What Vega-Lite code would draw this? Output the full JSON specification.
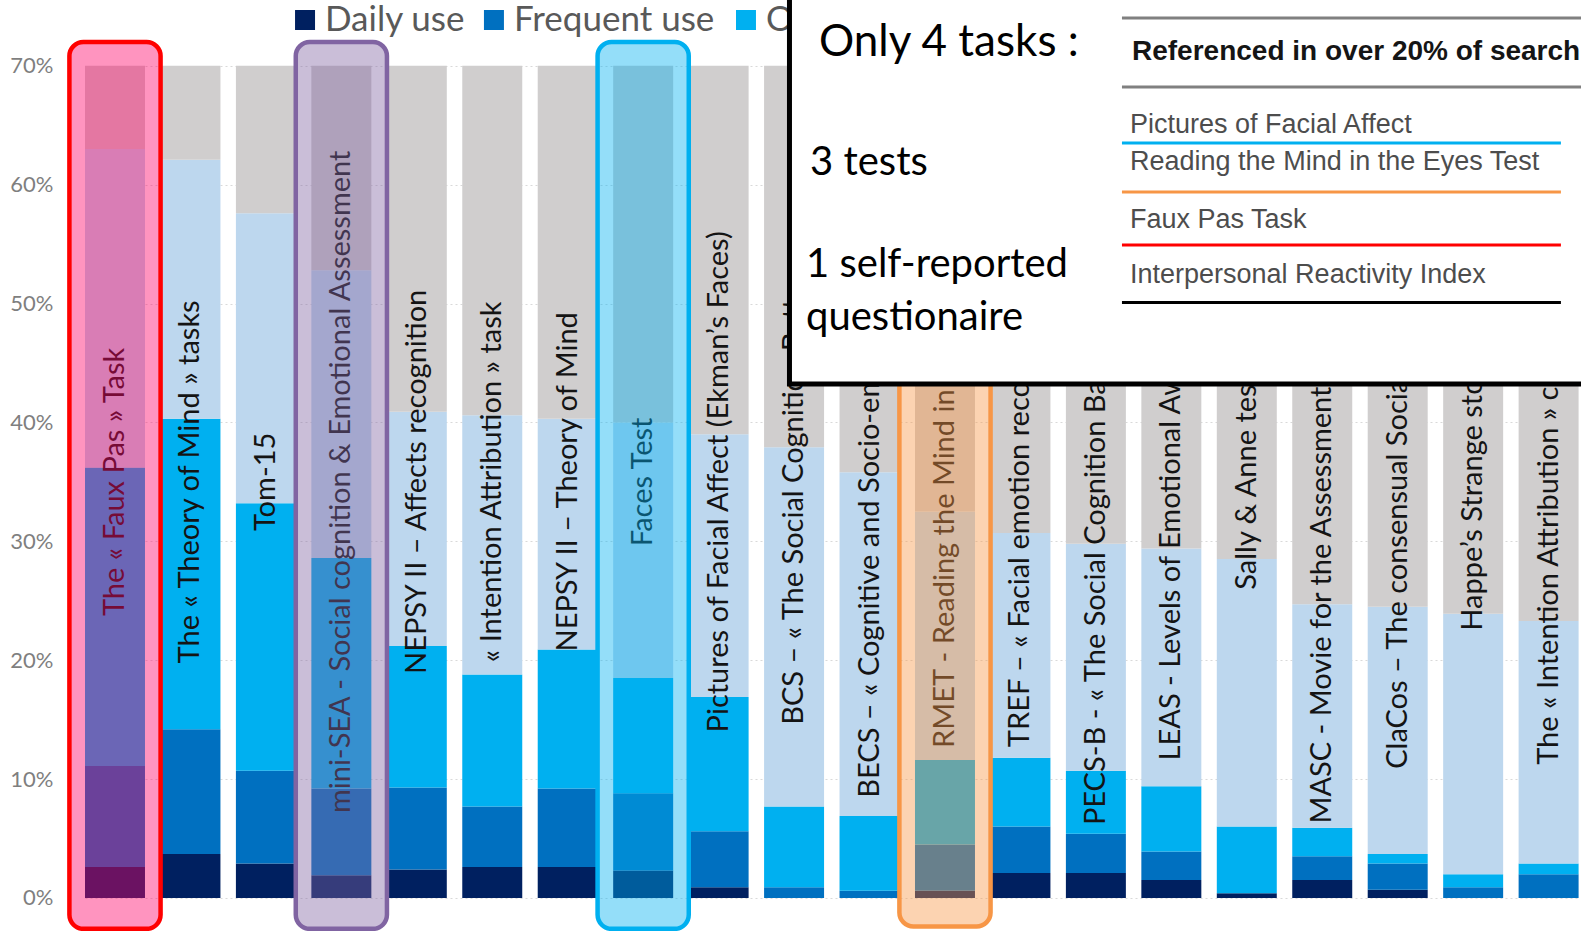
{
  "$schema": "https://vega.github.io/schema/vega-lite/v6.json",
  "autosize": {"type": "none"},
  "width": 1521,
  "height": 931,
  "padding": {"left": 60, "right": 0, "top": 0, "bottom": 0},
  "background": "white",
  "config": {"view": {"stroke": null}, "font": "Lato"},
  "datasets": {
    "tasks": [
      {"task": "The « Faux Pas » Task", "Daily use": 0.026, "Frequent use": 0.085, "Occasional use": 0.251, "Only known": 0.268, "Unknown": 0.070},
      {"task": "The « Theory of Mind » tasks", "Daily use": 0.037, "Frequent use": 0.105, "Occasional use": 0.261, "Only known": 0.218, "Unknown": 0.079},
      {"task": "Tom-15", "Daily use": 0.029, "Frequent use": 0.078, "Occasional use": 0.225, "Only known": 0.244, "Unknown": 0.124},
      {"task": "mini-SEA - Social cognition & Emotional Assessment", "Daily use": 0.019, "Frequent use": 0.073, "Occasional use": 0.194, "Only known": 0.242, "Unknown": 0.172},
      {"task": "NEPSY II – Affects recognition", "Daily use": 0.024, "Frequent use": 0.069, "Occasional use": 0.119, "Only known": 0.197, "Unknown": 0.291},
      {"task": "« Intention Attribution » task", "Daily use": 0.026, "Frequent use": 0.051, "Occasional use": 0.111, "Only known": 0.218, "Unknown": 0.294},
      {"task": "NEPSY II – Theory of Mind", "Daily use": 0.026, "Frequent use": 0.066, "Occasional use": 0.117, "Only known": 0.194, "Unknown": 0.297},
      {"task": "Faces Test", "Daily use": 0.023, "Frequent use": 0.065, "Occasional use": 0.097, "Only known": 0.215, "Unknown": 0.300},
      {"task": "Pictures of Facial Affect (Ekman’s Faces)", "Daily use": 0.009, "Frequent use": 0.047, "Occasional use": 0.113, "Only known": 0.221, "Unknown": 0.310},
      {"task": "BCS – « The Social Cognition Battery »", "Daily use": 0.0, "Frequent use": 0.009, "Occasional use": 0.068, "Only known": 0.302, "Unknown": 0.321},
      {"task": "BECS – « Cognitive and Socio-emotional Battery »", "Daily use": 0.0, "Frequent use": 0.006, "Occasional use": 0.063, "Only known": 0.289, "Unknown": 0.342},
      {"task": "RMET - Reading the Mind in the Eyes Test", "Daily use": 0.006, "Frequent use": 0.039, "Occasional use": 0.071, "Only known": 0.209, "Unknown": 0.375},
      {"task": "TREF – « Facial emotion recognition test »", "Daily use": 0.021, "Frequent use": 0.039, "Occasional use": 0.058, "Only known": 0.189, "Unknown": 0.393},
      {"task": "PECS-B - « The Social Cognition Battery of Bordeaux »", "Daily use": 0.021, "Frequent use": 0.033, "Occasional use": 0.053, "Only known": 0.191, "Unknown": 0.402},
      {"task": "LEAS - Levels of Emotional Awareness Scale", "Daily use": 0.015, "Frequent use": 0.024, "Occasional use": 0.055, "Only known": 0.200, "Unknown": 0.406},
      {"task": "Sally & Anne test", "Daily use": 0.004, "Frequent use": 0.0, "Occasional use": 0.056, "Only known": 0.225, "Unknown": 0.415},
      {"task": "MASC - Movie for the Assessment of Social Cognition", "Daily use": 0.015, "Frequent use": 0.020, "Occasional use": 0.024, "Only known": 0.188, "Unknown": 0.453},
      {"task": "ClaCos – The consensual Social Cognition set", "Daily use": 0.007, "Frequent use": 0.022, "Occasional use": 0.008, "Only known": 0.208, "Unknown": 0.455},
      {"task": "Happe’s Strange stories", "Daily use": 0.0, "Frequent use": 0.009, "Occasional use": 0.011, "Only known": 0.219, "Unknown": 0.461},
      {"task": "The « Intention Attribution » comic-strip task", "Daily use": 0.0, "Frequent use": 0.020, "Occasional use": 0.009, "Only known": 0.204, "Unknown": 0.467}
    ]
  },
  "layer": [
    {
      "layer": [
        {
          "data": {"name": "tasks"},
          "transform": [{"fold": ["Daily use", "Frequent use", "Occasional use", "Only known", "Unknown"], "as": ["use", "share"]}],
          "mark": {"type": "bar"},
          "encoding": {
            "x": {
              "field": "task", "type": "nominal", "axis": null,
              "scale": {
                "domain": ["The « Faux Pas » Task", "The « Theory of Mind » tasks", "Tom-15", "mini-SEA - Social cognition & Emotional Assessment", "NEPSY II – Affects recognition", "« Intention Attribution » task", "NEPSY II – Theory of Mind", "Faces Test", "Pictures of Facial Affect (Ekman’s Faces)", "BCS – « The Social Cognition Battery »", "BECS – « Cognitive and Socio-emotional Battery »", "RMET - Reading the Mind in the Eyes Test", "TREF – « Facial emotion recognition test »", "PECS-B - « The Social Cognition Battery of Bordeaux »", "LEAS - Levels of Emotional Awareness Scale", "Sally & Anne test", "MASC - Movie for the Assessment of Social Cognition", "ClaCos – The consensual Social Cognition set", "Happe’s Strange stories", "The « Intention Attribution » comic-strip task"],
                "range": [25, 1518.6],
                "paddingInner": 0.205,
                "paddingOuter": 0
              }
            },
            "y": {
              "field": "share", "type": "quantitative", "stack": "zero",
              "scale": {"domain": [-0.0278, 0.7553], "nice": false, "zero": false},
              "axis": {
                "values": [0, 0.1, 0.2, 0.3, 0.4, 0.5, 0.6, 0.7],
                "format": ".0%", "title": null, "domain": false, "ticks": false,
                "labelFont": "Lato", "labelFontSize": 22, "labelColor": "#7f7f7f", "labelPadding": 7,
                "grid": true, "gridColor": "#d9d9d9", "gridDash": [2, 3], "gridWidth": 1
              }
            },
            "color": {
              "field": "use", "type": "nominal",
              "scale": {
                "domain": ["Daily use", "Frequent use", "Occasional use", "Only known", "Unknown"],
                "range": ["#002060", "#0070C0", "#00B0F0", "#BDD7EE", "#D0CECE"]
              },
              "legend": null
            },
            "order": {"field": "use", "sort": "ascending"}
          }
        },
        {
          "data": {"name": "tasks"},
          "mark": {"type": "text", "angle": 270, "align": "center", "baseline": "middle", "font": "Lato", "fontSize": 29, "color": "#141414"},
          "encoding": {
            "x": {"field": "task", "type": "nominal"},
            "y": {"datum": 0.35},
            "text": {"field": "task"}
          }
        },
        {
          "data": {"values": [{}]},
          "mark": {"type": "bar", "width": {"band": 1.52}, "cornerRadius": 14, "fill": "#FF0066", "fillOpacity": 0.42, "stroke": "#FF0000", "strokeWidth": 4.5},
          "encoding": {"x": {"datum": "The « Faux Pas » Task", "type": "nominal"}, "y": {"datum": -0.026}, "y2": {"datum": 0.72}}
        },
        {
          "data": {"values": [{}]},
          "mark": {"type": "bar", "width": {"band": 1.52}, "cornerRadius": 14, "fill": "#8064A2", "fillOpacity": 0.42, "stroke": "#8064A2", "strokeWidth": 4.5},
          "encoding": {"x": {"datum": "mini-SEA - Social cognition & Emotional Assessment", "type": "nominal"}, "y": {"datum": -0.026}, "y2": {"datum": 0.72}}
        },
        {
          "data": {"values": [{}]},
          "mark": {"type": "bar", "width": {"band": 1.52}, "cornerRadius": 14, "fill": "#00B0F0", "fillOpacity": 0.42, "stroke": "#00B0F0", "strokeWidth": 4.5},
          "encoding": {"x": {"datum": "Faces Test", "type": "nominal"}, "y": {"datum": -0.026}, "y2": {"datum": 0.72}}
        },
        {
          "data": {"values": [{}]},
          "mark": {"type": "bar", "width": {"band": 1.52}, "cornerRadius": 14, "fill": "#F79646", "fillOpacity": 0.42, "stroke": "#F79646", "strokeWidth": 4.5},
          "encoding": {"x": {"datum": "RMET - Reading the Mind in the Eyes Test", "type": "nominal"}, "y": {"datum": -0.024}, "y2": {"datum": 0.72}}
        }
      ]
    },
    {
      "data": {"values": [{}]},
      "layer": [
        {
          "mark": {"type": "square", "size": 400, "opacity": 1},
          "encoding": {
            "x": {"datum": 16.11, "type": "quantitative", "scale": {"domain": [0, 100], "nice": false, "zero": false}, "axis": null},
            "y": {"datum": 2.15, "type": "quantitative", "scale": {"domain": [0, 100], "nice": false, "zero": false, "reverse": true}, "axis": null},
            "color": {"datum": "Daily use", "type": "nominal", "legend": null}
          }
        },
        {
          "mark": {"type": "text", "align": "left", "baseline": "middle", "font": "Lato", "fontSize": 35, "color": "#595959"},
          "encoding": {"x": {"datum": 17.42, "type": "quantitative", "axis": null}, "y": {"datum": 2.15, "type": "quantitative", "axis": null}, "text": {"value": "Daily use"}}
        },
        {
          "mark": {"type": "square", "size": 400, "opacity": 1},
          "encoding": {
            "x": {"datum": 28.53, "type": "quantitative", "axis": null},
            "y": {"datum": 2.15, "type": "quantitative", "axis": null},
            "color": {"datum": "Frequent use", "type": "nominal", "legend": null}
          }
        },
        {
          "mark": {"type": "text", "align": "left", "baseline": "middle", "font": "Lato", "fontSize": 35, "color": "#595959"},
          "encoding": {"x": {"datum": 29.85, "type": "quantitative", "axis": null}, "y": {"datum": 2.15, "type": "quantitative", "axis": null}, "text": {"value": "Frequent use"}}
        },
        {
          "mark": {"type": "square", "size": 400, "opacity": 1},
          "encoding": {
            "x": {"datum": 45.1, "type": "quantitative", "axis": null},
            "y": {"datum": 2.15, "type": "quantitative", "axis": null},
            "color": {"datum": "Occasional use", "type": "nominal", "legend": null}
          }
        },
        {
          "mark": {"type": "text", "align": "left", "baseline": "middle", "font": "Lato", "fontSize": 35, "color": "#595959"},
          "encoding": {"x": {"datum": 46.42, "type": "quantitative", "axis": null}, "y": {"datum": 2.15, "type": "quantitative", "axis": null}, "text": {"value": "Occasional use"}}
        },
        {
          "mark": {"type": "rect", "fill": "white", "stroke": "black", "strokeWidth": 5},
          "encoding": {
            "x": {"datum": 47.96, "type": "quantitative", "axis": null},
            "x2": {"datum": 103},
            "y": {"datum": -2, "type": "quantitative", "axis": null},
            "y2": {"datum": 41.25}
          }
        },
        {
          "mark": {"type": "text", "align": "left", "baseline": "middle", "font": "Lato", "fontSize": 44, "color": "black"},
          "encoding": {"x": {"datum": 49.9, "type": "quantitative", "axis": null}, "y": {"datum": 4.62, "type": "quantitative", "axis": null}, "text": {"value": "Only 4 tasks :"}}
        },
        {
          "mark": {"type": "text", "align": "left", "baseline": "middle", "font": "Lato", "fontSize": 40, "color": "black"},
          "encoding": {"x": {"datum": 49.31, "type": "quantitative", "axis": null}, "y": {"datum": 17.51, "type": "quantitative", "axis": null}, "text": {"value": "3 tests"}}
        },
        {
          "mark": {"type": "text", "align": "left", "baseline": "middle", "font": "Lato", "fontSize": 40, "color": "black"},
          "encoding": {"x": {"datum": 49.05, "type": "quantitative", "axis": null}, "y": {"datum": 28.46, "type": "quantitative", "axis": null}, "text": {"value": "1 self-reported"}}
        },
        {
          "mark": {"type": "text", "align": "left", "baseline": "middle", "font": "Lato", "fontSize": 40, "color": "black"},
          "encoding": {"x": {"datum": 49.05, "type": "quantitative", "axis": null}, "y": {"datum": 34.16, "type": "quantitative", "axis": null}, "text": {"value": "questionaire"}}
        },
        {
          "mark": {"type": "rule", "color": "#808080", "strokeWidth": 3},
          "encoding": {"x": {"datum": 69.82, "type": "quantitative", "axis": null}, "x2": {"datum": 103}, "y": {"datum": 1.93, "type": "quantitative", "axis": null}}
        },
        {
          "mark": {"type": "text", "align": "left", "baseline": "middle", "font": "Liberation Sans", "fontWeight": "bold", "fontSize": 28, "color": "#151515"},
          "encoding": {"x": {"datum": 70.48, "type": "quantitative", "axis": null}, "y": {"datum": 5.59, "type": "quantitative", "axis": null}, "text": {"value": "Referenced in over 20% of search"}}
        },
        {
          "mark": {"type": "rule", "color": "#808080", "strokeWidth": 3},
          "encoding": {"x": {"datum": 69.82, "type": "quantitative", "axis": null}, "x2": {"datum": 103}, "y": {"datum": 9.34, "type": "quantitative", "axis": null}}
        },
        {
          "mark": {"type": "text", "align": "left", "baseline": "middle", "font": "Liberation Sans", "fontSize": 27, "color": "#4d4d4d"},
          "encoding": {"x": {"datum": 70.35, "type": "quantitative", "axis": null}, "y": {"datum": 13.43, "type": "quantitative", "axis": null}, "text": {"value": "Pictures of Facial Affect"}}
        },
        {
          "mark": {"type": "rule", "color": "#00B0F0", "strokeWidth": 3},
          "encoding": {"x": {"datum": 69.82, "type": "quantitative", "axis": null}, "x2": {"datum": 98.68}, "y": {"datum": 15.36, "type": "quantitative", "axis": null}}
        },
        {
          "mark": {"type": "text", "align": "left", "baseline": "middle", "font": "Liberation Sans", "fontSize": 27, "color": "#4d4d4d"},
          "encoding": {"x": {"datum": 70.35, "type": "quantitative", "axis": null}, "y": {"datum": 17.4, "type": "quantitative", "axis": null}, "text": {"value": "Reading the Mind in the Eyes Test"}}
        },
        {
          "mark": {"type": "rule", "color": "#F79646", "strokeWidth": 3},
          "encoding": {"x": {"datum": 69.82, "type": "quantitative", "axis": null}, "x2": {"datum": 98.68}, "y": {"datum": 20.62, "type": "quantitative", "axis": null}}
        },
        {
          "mark": {"type": "text", "align": "left", "baseline": "middle", "font": "Liberation Sans", "fontSize": 27, "color": "#4d4d4d"},
          "encoding": {"x": {"datum": 70.35, "type": "quantitative", "axis": null}, "y": {"datum": 23.63, "type": "quantitative", "axis": null}, "text": {"value": "Faux Pas Task"}}
        },
        {
          "mark": {"type": "rule", "color": "#FF0000", "strokeWidth": 3},
          "encoding": {"x": {"datum": 69.82, "type": "quantitative", "axis": null}, "x2": {"datum": 98.68}, "y": {"datum": 26.32, "type": "quantitative", "axis": null}}
        },
        {
          "mark": {"type": "text", "align": "left", "baseline": "middle", "font": "Liberation Sans", "fontSize": 27, "color": "#4d4d4d"},
          "encoding": {"x": {"datum": 70.35, "type": "quantitative", "axis": null}, "y": {"datum": 29.54, "type": "quantitative", "axis": null}, "text": {"value": "Interpersonal Reactivity Index"}}
        },
        {
          "mark": {"type": "rule", "color": "#000000", "strokeWidth": 3},
          "encoding": {"x": {"datum": 69.82, "type": "quantitative", "axis": null}, "x2": {"datum": 98.68}, "y": {"datum": 32.49, "type": "quantitative", "axis": null}}
        }
      ]
    }
  ],
  "resolve": {"scale": {"x": "independent", "y": "independent"}}
}
